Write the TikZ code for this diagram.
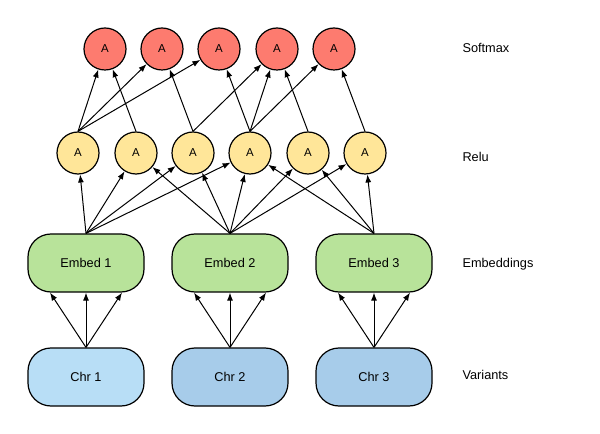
\documentclass[tikz,border=0pt]{standalone}
\usepackage{fontspec}
\setmainfont{Liberation Sans}
\usetikzlibrary{arrows.meta}
\definecolor{softred}{HTML}{FD7B6F}
\definecolor{reluyellow}{HTML}{FFE699}
\definecolor{embedgreen}{HTML}{B8E39A}
\definecolor{chrlight}{HTML}{B8DEF6}
\definecolor{chrblue}{HTML}{A7CCEA}
\begin{document}
\begin{tikzpicture}[x=1bp,y=-1bp,
  neuron/.style={circle,draw,line width=1.2bp,minimum size=42bp,inner sep=0pt,font=\fontsize{11.5}{13}\selectfont},
  block/.style={draw,rounded corners=23bp,line width=1.2bp,minimum width=116bp,minimum height=58bp,font=\fontsize{12.8}{14}\selectfont},
  layer/.style={anchor=west,font=\fontsize{12.8}{14}\selectfont},
  conn/.style={-{Latex[length=8bp,width=6bp]},line width=1bp}]
\useasboundingbox (0,0) rectangle (600,434);

% Softmax layer
\foreach \i/\x in {1/105,2/162,3/219,4/277,5/334}
  \node[neuron,fill=softred] (s\i) at (\x,49) {A};
% Relu layer
\foreach \i/\x in {1/78,2/136,3/193,4/250,5/308,6/365}
  \node[neuron,fill=reluyellow] (r\i) at (\x,153) {A};
% Embeddings and variants
\foreach \i/\x/\c in {1/86/chrlight,2/230/chrblue,3/374/chrblue} {
  \node[block,fill=embedgreen] (e\i) at (\x,263) {Embed \i};
  \node[block,fill=\c] (c\i) at (\x,377) {Chr \i};
}

% Layer names
\node[layer] (lsoft) at (459,48) {Softmax};
\node[layer] (lrelu) at (459,157) {Relu};
\node[layer] (lemb) at (459,264) {Embeddings};
\node[layer] (lvar) at (459,375) {Variants};

% Variants -> embeddings
\foreach \i in {1,2,3}
  \foreach \d in {-36,0,36}
    \draw[conn] (c\i.north) -- ([xshift=\d bp]e\i.south);

% Embeddings -> relu
\foreach \a/\b in {e1/r1,e1/r2,e1/r3,e1/r4,e2/r2,e2/r3,e2/r4,e2/r5,e2/r6,e3/r4,e3/r5,e3/r6}
  \draw[conn] (\a.north) -- (\b);

% Relu -> softmax
\foreach \a/\b in {r1/s1,r1/s2,r1/s3,r2/s1,r3/s2,r3/s4,r4/s3,r4/s4,r4/s5,r5/s4,r6/s5}
  \draw[conn] (\a.north) -- (\b);
\end{tikzpicture}
\end{document}
